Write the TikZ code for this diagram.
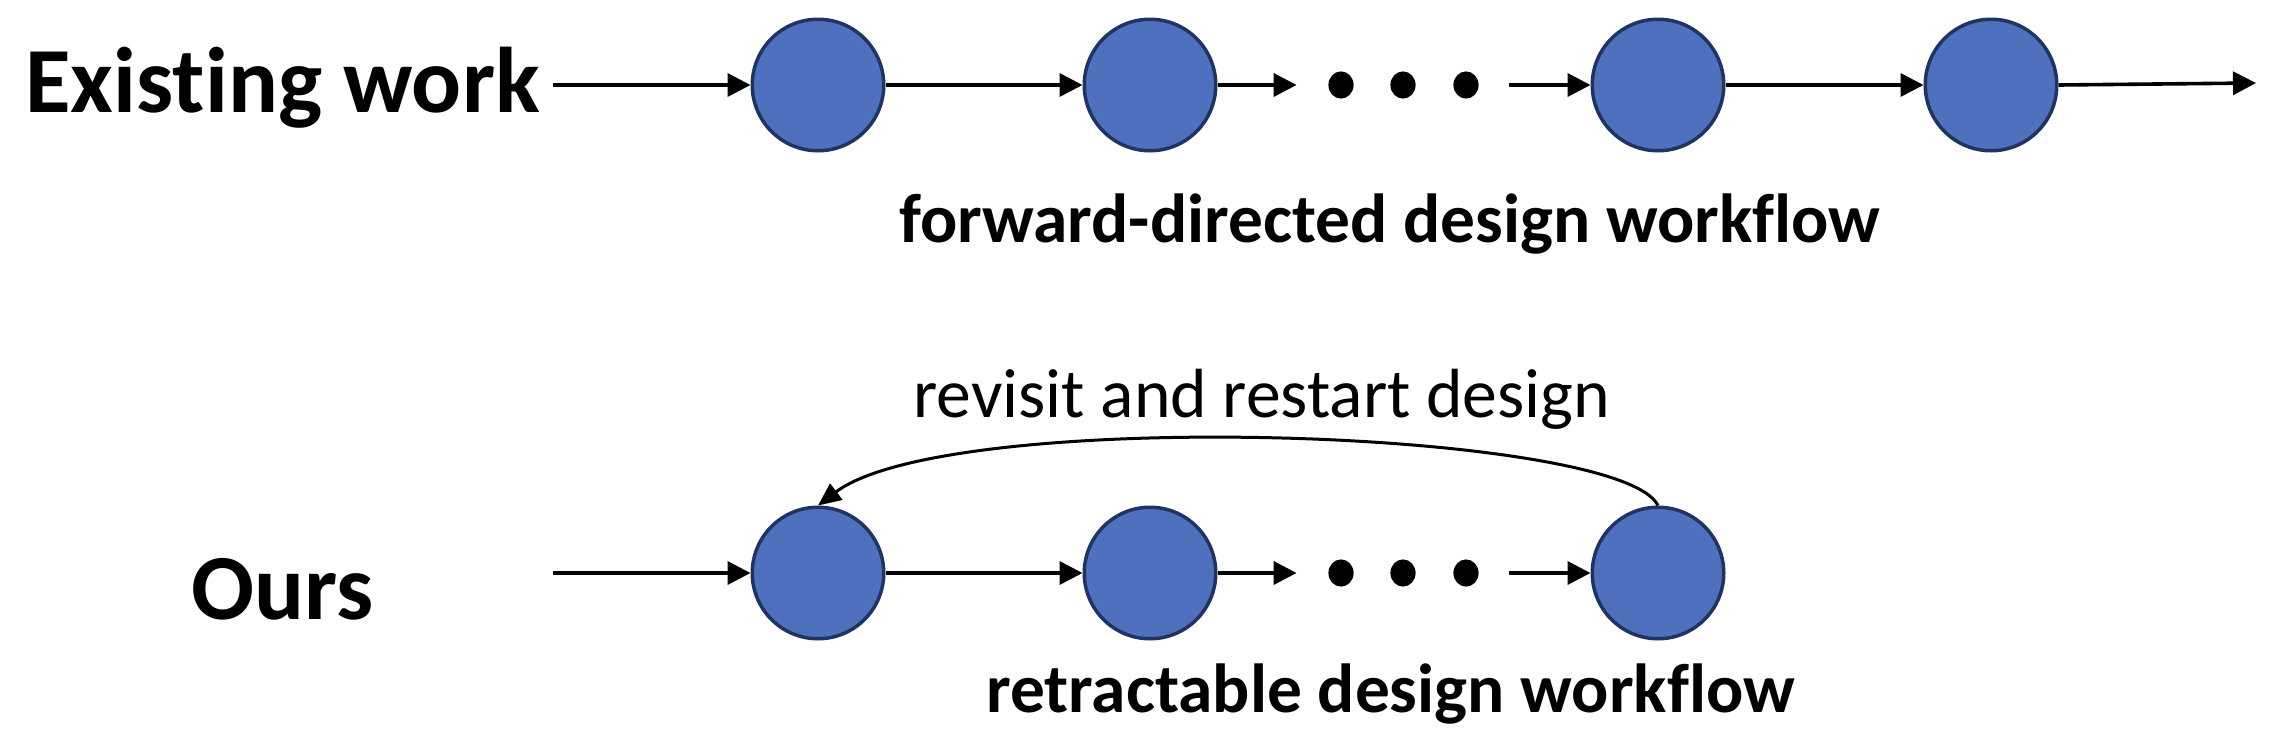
\documentclass[tikz,border=0pt]{standalone}
\usepackage{fontspec}
\setmainfont[Ligatures=NoCommon]{Carlito}
\usetikzlibrary{arrows.meta}
\definecolor{nodefill}{HTML}{4F71BD}
\definecolor{nodeline}{HTML}{1F3462}
\tikzset{
  stage/.style={circle,draw=nodeline,fill=nodefill,line width=1.75pt,minimum size=65.75pt,inner sep=0pt},
  flow/.style={-{Triangle[length=11.5pt,width=11.5pt]},line width=1.8pt},
  ellip/.style={minimum width=106pt,minimum height=14pt,inner sep=0pt},
  dotmark/.style={fill=black},
  title/.style={font=\bfseries\fontsize{46.6}{56}\selectfont,anchor=base west,inner sep=0pt},
  caption/.style={font=\bfseries\fontsize{34.7}{40}\selectfont,anchor=base west,inner sep=0pt},
  remark/.style={font=\fontsize{34.8}{40}\selectfont,anchor=base west,inner sep=0pt}
}
\begin{document}
\begin{tikzpicture}[x=0.5pt,y=-0.5pt]
\useasboundingbox (0,0) rectangle (2282,734);
% top row
\node[title] (t1) at (25,112) {Existing work};
\coordinate (tin) at (553,85);
\node[stage] (a1) at (818,85) {};
\node[stage] (a2) at (1150,85) {};
\node[ellip] (da) at (1403,85) {};
\node[stage] (a3) at (1658,85) {};
\node[stage] (a4) at (1991,85) {};
\coordinate (tout) at (2256,83);
\foreach \dx in {-62,0,63}{\fill[dotmark] (1403+\dx,85) ellipse (6.3pt and 6.8pt);}
\draw[flow] (tin) -- (a1);
\draw[flow] (a1) -- (a2);
\draw[flow] (a2) -- (da.west);
\draw[flow] (da.east) -- (a3);
\draw[flow] (a3) -- (a4);
\draw[flow] (a4.east) -- (tout);
\node[caption] (c1) at (899,242) {forward-directed design workflow};
% bottom row
\node[title] (t2) at (191,619) {Ours};
\coordinate (bin) at (553,573);
\node[stage] (b1) at (818,573) {};
\node[stage] (b2) at (1150,573) {};
\node[ellip] (db) at (1403,573) {};
\node[stage] (b3) at (1658,573) {};
\foreach \dx in {-62,0,63}{\fill[dotmark] (1403+\dx,573) ellipse (6.3pt and 6.8pt);}
\draw[flow] (bin) -- (b1);
\draw[flow] (b1) -- (b2);
\draw[flow] (b2) -- (db.west);
\draw[flow] (db.east) -- (b3);
\draw[-{Triangle[length=11.5pt,width=10pt]},line width=1.5pt] (b3.north) .. controls +(-38,-77) and +(131,-99) .. (b1.north);
\node[remark] (r1) at (913,417) {revisit and restart design};
\node[caption] (c2) at (986,712) {retractable design workflow};
\end{tikzpicture}
\end{document}
